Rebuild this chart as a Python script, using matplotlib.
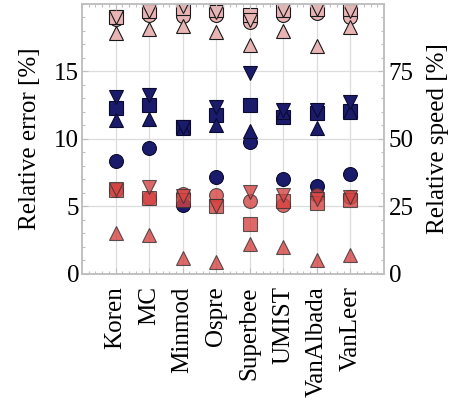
import matplotlib.pyplot as plt
from matplotlib.ticker import MultipleLocator

plt.rcParams['font.family'] = ['Liberation Serif', 'DejaVu Serif']
plt.rcParams['font.size'] = 18

limiters = ['Koren', 'MC', 'Minmod', 'Ospre', 'Superbee', 'UMIST', 'VanAlbada', 'VanLeer']

# relative error [%] (left axis)
err_circle = [6.2, 5.6, 5.9, 5.85, 5.4, 5.1, 5.85, 5.7]
err_square = [6.24, 5.63, 5.45, 5.0, 3.7, 5.43, 5.28, 5.48]
err_up = [3.0, 2.9, 1.18, 0.9, 2.2, 2.0, 1.07, 1.38]
err_down = [6.3, 6.47, 5.75, 5.07, 6.05, 5.85, 5.55, 5.7]

# relative speed [%] (right axis), first set
spd_circle = [41.9, 46.6, 25.5, 36.0, 49.0, 35.2, 32.6, 37.0]
spd_square = [61.3, 62.4, 54.5, 59.0, 62.5, 58.2, 59.5, 60.4]
spd_up = [57.0, 57.5, 54.0, 55.0, 52.8, 60.0, 54.2, 60.0]
spd_down = [65.4, 66.4, 54.6, 61.7, 74.3, 60.8, 60.8, 63.7]

# relative speed [%] (right axis), second set
fast_circle = [94.5, 96.0, 95.5, 96.0, 93.2, 96.0, 96.5, 95.0]
fast_square = [95.0, 97.3, 98.5, 97.8, 96.0, 97.8, 98.0, 98.0]
fast_up = [89.3, 90.8, 92.0, 89.8, 84.8, 90.0, 84.5, 91.5]
fast_down = [95.0, 97.5, 99.3, 97.0, 94.0, 97.8, 98.0, 97.5]

x = list(range(len(limiters)))
frame = '#bfbfbf'
ms = 10

fig = plt.figure(figsize=(4.59, 4.17), dpi=100)
ax = fig.add_axes([0.1786, 0.343, 0.658, 0.6475])
ax2 = ax.twinx()
# error markers sit above the speed markers
ax.set_zorder(ax2.get_zorder() + 1)
ax.patch.set_visible(False)

navy = dict(ls='none', ms=ms, mfc='#1b1b6b', mec='#0a0a30', mew=0.8)
pink = dict(ls='none', ms=ms, mfc='#e9b4b4', mec='#1a1a1a', mew=0.8)
red = dict(ls='none', ms=ms, mfc='#d64343', mec='#333333', mew=0.8, alpha=0.8)

for vals, m in [(spd_circle, 'o'), (spd_square, 's'), (spd_up, '^'), (spd_down, 'v')]:
    ax2.plot(x, vals, marker=m, **navy)
for vals, m in [(fast_circle, 'o'), (fast_square, 's'), (fast_up, '^'), (fast_down, 'v')]:
    ax2.plot(x, vals, marker=m, **pink)
for vals, m in [(err_circle, 'o'), (err_square, 's'), (err_up, '^'), (err_down, 'v')]:
    ax.plot(x, vals, marker=m, **red)

ax.set_xlim(-1, 8)
ax.set_ylim(0, 20)
ax2.set_ylim(0, 100)

ax.set_xticks(x)
ax.set_xticklabels(limiters, rotation=90)
ax.xaxis.set_minor_locator(MultipleLocator(0.2))
ax.set_yticks([0, 5, 10, 15])
ax.yaxis.set_minor_locator(MultipleLocator(1))
ax2.set_yticks([0, 25, 50, 75])
ax2.yaxis.set_minor_locator(MultipleLocator(5))

# grid lives on the lower axes so it stays under every marker
ax2.xaxis.set_visible(True)
ax2.set_xticks(x)
ax2.grid(True, color='#dcdcdc', lw=0.9)
ax2.set_axisbelow(True)

for a in (ax, ax2):
    for s in a.spines.values():
        s.set_color(frame)
        s.set_linewidth(1.1)
    a.tick_params(which='both', direction='in', color=frame, width=0.8)
    a.tick_params(which='major', length=4)
    a.tick_params(which='minor', length=2.5)
ax.tick_params(axis='x', which='both', top=True, pad=9)
ax.tick_params(axis='y', pad=2)
ax2.tick_params(axis='x', which='both', bottom=False, top=False,
                labelbottom=False, labeltop=False)

ax.set_ylabel('Relative error [%]')
ax2.set_ylabel('Relative speed [%]')
ax.yaxis.set_label_coords(-0.135, 0.5)
ax2.yaxis.set_label_coords(1.142, 0.5)

fig.savefig('out.png')
